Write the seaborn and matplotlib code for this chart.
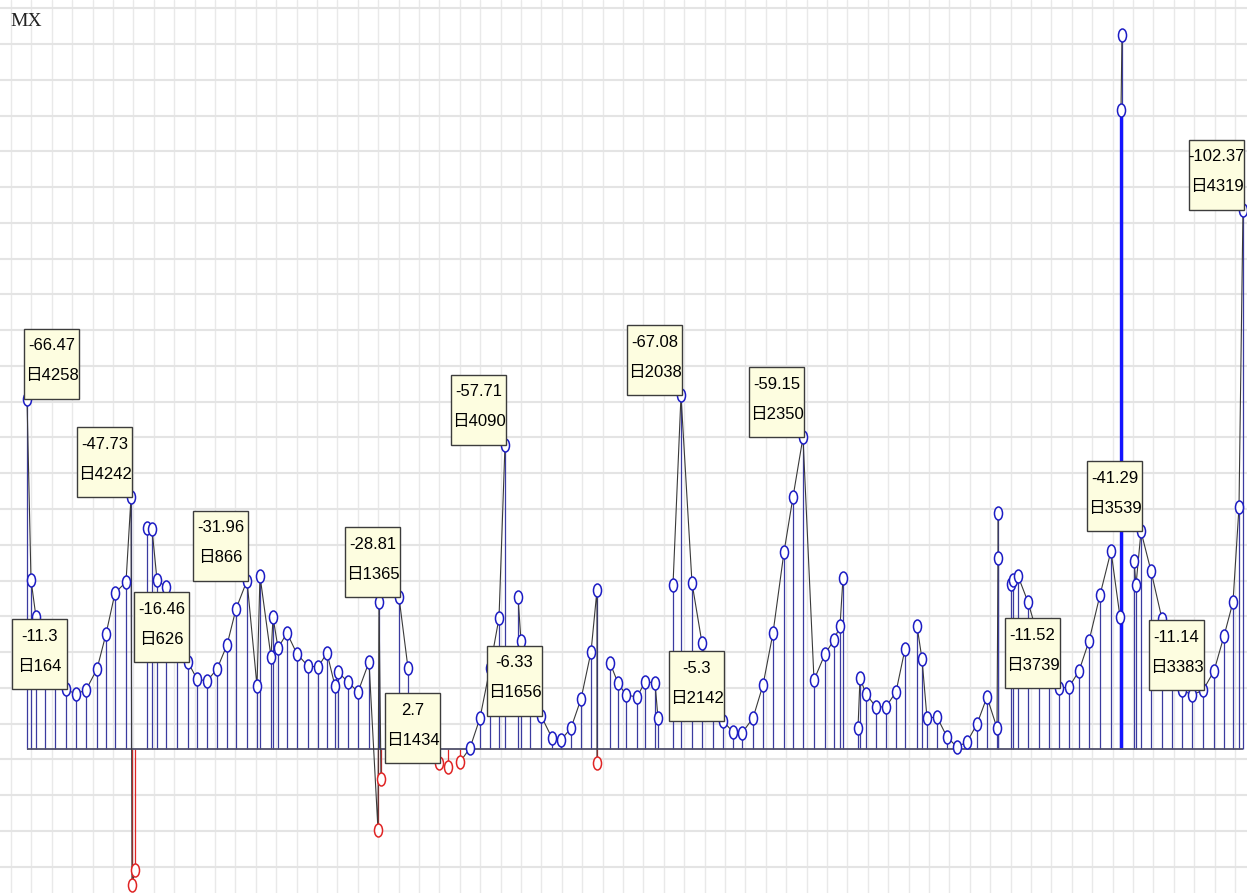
import numpy as np
import pandas as pd
import matplotlib
matplotlib.use("Agg")
import matplotlib.pyplot as plt
import seaborn as sns
from matplotlib.path import Path
from matplotlib.patches import Rectangle
from matplotlib.transforms import ScaledTranslation
from matplotlib import font_manager

# ---- data -------------------------------------------------------------
pos = [27, 31, 36, 45, 55, 66, 76, 86, 97, 106, 115, 126, 131, 132, 135,
       147, 152, 157, 166, 177, 188, 197, 207, 217, 227, 236, 247, 257, 260,
       271, 273, 278, 287, 297, 308, 318, 327, 335, 338, 348, 358, 369, 378,
       379, 381, 399, 408, 439, 448, 460, 470, 480, 490, 499, 505, 518, 521,
       530, 541, 552, 561, 571, 581, 591, 597, 597, 610, 618, 626, 637, 645,
       655, 658, 673, 681, 692, 702, 713, 723, 733, 742, 753, 763, 773, 784,
       793, 803, 814, 825, 834, 840, 843, 858, 860, 866, 876, 886, 896, 905,
       917, 922, 927, 937, 947, 957, 967, 977, 987, 997, 998, 998, 1011, 1013,
       1018, 1028, 1039, 1049, 1059, 1069, 1079, 1089, 1100, 1111, 1120, 1134,
       1136, 1141, 1151, 1162, 1172, 1182, 1192, 1203, 1214, 1224, 1233, 1239,
       1243]
val = [-66.47, -32.07, -25.05, -18.8, -13.9, -11.3, -10.44, -11.2, -15.18,
       -21.82, -29.6, -31.69, -47.73, 25.8, 23.0, -41.94, -41.75, -32.07,
       -30.74, -22.6, -16.46, -13.28, -12.9, -15.18, -19.73, -26.57, -31.96,
       -11.95, -32.83, -17.46, -25.05, -19.17, -22.01, -18.03, -15.75, -15.56,
       -18.22, -11.95, -14.61, -12.71, -10.82, -16.51, 15.37, -27.89, 5.69,
       -28.81, -15.37, 2.7, 3.42, 2.47, -0.19, -5.88, -15.4, -24.86, -57.71,
       -28.84, -20.49, -11.2, -6.33, -2.09, -1.71, -3.98, -9.49, -18.41,
       -30.17, 2.66, -16.32, -12.52, -10.25, -9.87, -12.71, -12.6, -5.88,
       -31.12, -67.08, -31.5, -20.11, -11.2, -5.3, -3.23, -3.04, -5.88,
       -12.14, -22.01, -37.38, -47.82, -59.15, -13.09, -18.03, -20.68, -23.34,
       -32.45, -3.98, -13.47, -10.44, -7.97, -8.0, -10.82, -18.98, -23.34,
       -17.08, -5.88, -6.07, -2.28, -0.38, -1.33, -4.74, -9.87, -3.98, -36.24,
       -44.78, -31.31, -32.07, -32.83, -27.89, -20.7, -15.4, -11.52, -11.76,
       -14.8, -20.49, -29.22, -37.57, -25.05, -35.67, -31.12, -41.29, -33.78,
       -24.67, -17.3, -11.2, -10.25, -11.14, -14.8, -21.44, -27.89, -45.92,
       -102.37]

# isolated spike (two readings on one position)
spike_pos = [1122, 1121]
spike_val = [-135.48, -121.25]

# annotated points: index into the series and the day counter shown
label_idx = [0, 5, 12, 20, 26, 45, 47, 54, 58, 74, 78, 86, 117, 126, 132, 137]
label_day = [4258, 164, 4242, 626, 866, 1365, 1434, 4090, 1656, 2038, 2142,
             2350, 3739, 3539, 3383, 4319]

# ---- styling ----------------------------------------------------------
W, H, DPI = 1247, 893, 100
PX_PER_UNIT = 5.27          # vertical scale (pixels per value unit)
BASE_PX = 749               # baseline distance from the top edge
BLUE_STEM = "#3b3ba0"
BLUE_EDGE = "#1c1cc4"
RED = "#e02424"
LINE = "#3a3a3a"

sns.set_theme(style="white")
plt.rcParams["savefig.bbox"] = "standard"
names = {f.name for f in font_manager.fontManager.ttflist}
narrow = "Liberation Sans Narrow" if "Liberation Sans Narrow" in names else "Liberation Sans"
label_family = [narrow, "Noto Sans CJK SC", "DejaVu Sans"]

fig = plt.figure(figsize=(W / DPI, H / DPI), dpi=DPI)
fig.patch.set_facecolor("white")
ax = fig.add_axes([0, 0, 1, 1])
ax.set_facecolor("white")

df = pd.DataFrame({"pos": pos, "val": val})
gap = df["pos"].diff().fillna(0)
df["run"] = (gap > 11.5).cumsum()

# stems
stem_cols = [RED if v > 0 else BLUE_STEM for v in df["val"]]
ax.vlines(df["pos"], 0, df["val"], colors=stem_cols, lw=0.9, zorder=2)
ax.vlines(spike_pos[0], 0, spike_val[0], colors=BLUE_STEM, lw=0.9, zorder=2)
ax.vlines(spike_pos[1], 0, spike_val[1], colors="#1414ff", lw=2.4, zorder=2.1)

# baseline
ax.hlines(0, df["pos"].min(), df["pos"].max(), colors="#50506a", lw=1.3, zorder=2.2)

# connecting line
sns.lineplot(data=df, x="pos", y="val", units="run", estimator=None, sort=False,
             color=LINE, lw=0.8, ax=ax, legend=False, zorder=3)
sp = pd.DataFrame({"pos": spike_pos, "val": spike_val})
sns.lineplot(data=sp, x="pos", y="val", estimator=None, sort=False,
             color=LINE, lw=0.8, ax=ax, legend=False, zorder=3)

# ellipse markers
circ = Path.unit_circle()
ellipse = Path(circ.vertices * np.array([0.62, 1.0]), circ.codes)
msize = (13 * 72 / DPI) ** 2
pts = pd.concat([df[["pos", "val"]], sp], ignore_index=True)
blue_pts = pts[pts["val"] <= 0]
red_pts = pts[pts["val"] > 0]
sns.scatterplot(data=blue_pts, x="pos", y="val", marker=ellipse, s=msize,
                color="white", edgecolor=BLUE_EDGE, linewidth=1.1, ax=ax,
                legend=False, zorder=4)
sns.scatterplot(data=red_pts, x="pos", y="val", marker=ellipse, s=msize,
                color="white", edgecolor=RED, linewidth=1.1, ax=ax,
                legend=False, zorder=4)

# limits and grid (set after plotting so autoscaling does not override them)
y_top = -BASE_PX / PX_PER_UNIT
y_bot = (H - BASE_PX) / PX_PER_UNIT
ax.set_xlim(0, W)
ax.set_ylim(y_bot, y_top)
vgrid = 11 + 20.4 * np.arange(0, 62)
vgrid = vgrid[vgrid < W - 1]
hgrid_px = 8.5 + 35.75 * np.arange(0, 26)
hgrid_px = hgrid_px[hgrid_px < H - 1]
hgrid = (hgrid_px - BASE_PX) / PX_PER_UNIT
ax.set_xticks(vgrid)
ax.set_yticks(hgrid)
ax.tick_params(length=0, labelbottom=False, labelleft=False)
ax.xaxis.grid(True, color="#e9e9e9", lw=1.0)
ax.yaxis.grid(True, color="#e4e4e4", lw=1.5)
ax.set_axisbelow(True)
for s in ax.spines.values():
    s.set_visible(False)
ax.set_xlabel("")
ax.set_ylabel("")

# value / day boxes
BOX_W, BOX_H = 55, 70
for k, (i, day) in enumerate(zip(label_idx, label_day)):
    x, v = pos[i], val[i]
    x0 = -3 if k == 0 else -BOX_W + 1
    tr = ScaledTranslation(x, v, ax.transData)
    ax.add_patch(Rectangle((x0, 0), BOX_W, BOX_H, transform=tr,
                           facecolor="#fdfde0", edgecolor="#3c3c3c", lw=1.0,
                           zorder=5, clip_on=False))
    cx = x0 + BOX_W / 2
    ax.annotate(f"{v:g}", xy=(x, v), xytext=(cx, BOX_H - 17),
                textcoords="offset pixels", ha="center", va="center",
                fontsize=12, family=label_family, color="black", zorder=6)
    ax.annotate(f"日{day}", xy=(x, v), xytext=(cx, 23),
                textcoords="offset pixels", ha="center", va="center",
                fontsize=12, family=label_family, color="black", zorder=6)

fig.text(10 / W, 1 - 13 / H, "MX", ha="left", va="top", fontsize=14,
         family=["Liberation Serif", "DejaVu Serif"], color="#222222")

fig.savefig("out.png", dpi=DPI, facecolor="white")
